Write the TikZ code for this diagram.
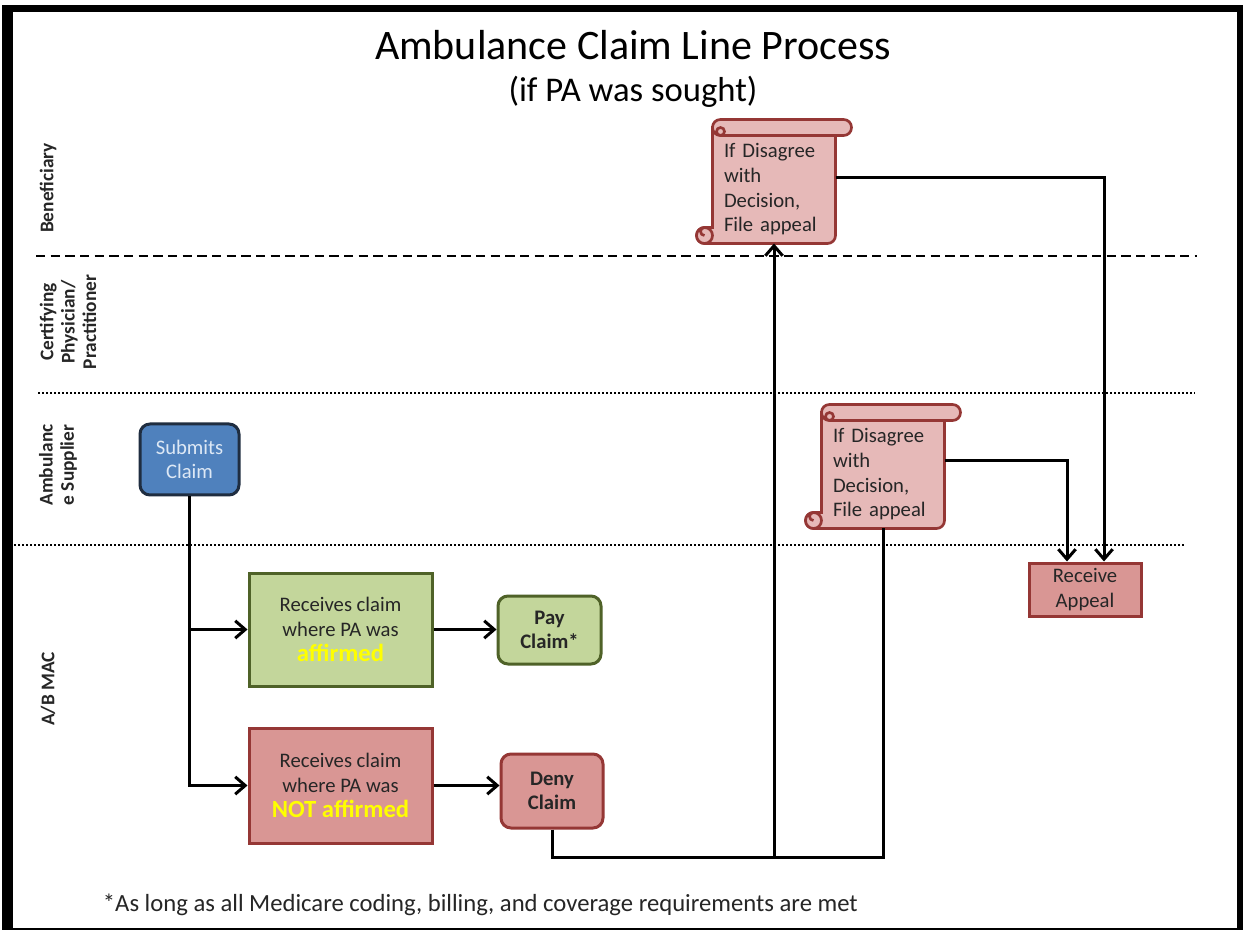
\documentclass[tikz,border=0pt]{standalone}
\usepackage{fontspec}
\setmainfont{Carlito}
\usetikzlibrary{arrows.meta,calc}

\definecolor{boxblue}{HTML}{4F81BD}
\definecolor{boxblueline}{HTML}{1F2D40}
\definecolor{boxbluetext}{HTML}{DDE8F5}
\definecolor{okfill}{HTML}{C3D69B}
\definecolor{okline}{HTML}{4F6228}
\definecolor{nofill}{HTML}{D99694}
\definecolor{noline}{HTML}{953735}
\definecolor{scrollfill}{HTML}{E6B9B8}
\definecolor{darktext}{HTML}{262626}
\definecolor{markyellow}{HTML}{FFFF00}

\tikzset{every picture/.style={line width=0.75pt}}
\tikzset{
  lanelabel/.style={rotate=90, align=center, text=darktext, font=\fontsize{14.5}{16}\selectfont\bfseries},
  procbox/.style={draw, line width=2.25pt, align=center, text=darktext, font=\fontsize{15.5}{18.5}\selectfont, inner sep=0pt},
  okbox/.style={procbox, fill=okfill, draw=okline},
  nobox/.style={procbox, fill=nofill, draw=noline},
  roundbox/.style={rounded corners=7.5pt},
  scrollbody/.style={align=left, text=darktext, font=\fontsize{15.5}{18.5}\selectfont, text width=75pt, inner xsep=8.25pt, inner ysep=0pt, minimum height=80.25pt},
  scrollline/.style={draw=noline, line width=2pt, fill=scrollfill},
  flow/.style={line width=2.25pt},
  flowarrow/.style={flow, -{Straight Barb[length=7.5pt,width=13pt]}},
  lanesep/.style={line width=1.6pt},
}

% scroll outline drawn round a body node
\newcommand{\scrollroll}[1]{%
  \path[scrollline] ($(#1.north west)+(0,-8)$) -- ($(#1.north east)+(0,-8)$) -- ($(#1.south east)+(0,-8)$)
    arc[start angle=0, end angle=90, radius=8] -- ($(#1.south west)+(-8,0)$)
    arc[start angle=90, end angle=270, radius=8] -- ($(#1.south west)+(0,-16)$) -- cycle;
  \path[scrollline] ($(#1.south west)+(-8,-8)$) circle[radius=8];
  \draw[noline, line width=2pt] ($(#1.south west)+(-8,-16)$) arc[start angle=270, end angle=90, radius=4];
  \path[scrollline, rounded corners=5.9pt] ($(#1.north west)+(0,-16)$) rectangle ($(#1.north east)+(16,0)$);
  \draw[noline, line width=2pt] ($(#1.north west)+(8,-4)$) circle[radius=4];
}

\begin{document}
\begin{tikzpicture}[x=0.75pt,y=0.75pt,yscale=-1,xscale=1]
\useasboundingbox (0,0) rectangle (1243,930);

%Shape: Frame
\fill (2,5) rectangle (1243,930);
\fill[white] (13,12) rectangle (1237,927.5);

% Text Node
\node (title) at (633,45) {\fontsize{31.5}{36}\selectfont Ambulance Claim Line Process};
% Text Node
\node (subtitle) at (633,92) {\fontsize{26}{30}\selectfont (if PA was sought)};

%Lanes
\draw[lanesep, dash pattern=on 7pt off 4pt] (36,256) -- (1197,256);
\draw[lanesep, dash pattern=on 1.5pt off 1.5pt] (38,393) -- (1195,393);
\draw[lanesep, dash pattern=on 1.5pt off 1.5pt] (14,545) -- (1185,545);

\node[lanelabel] (lben) at (48,188) {Beneficiary};
\node[lanelabel] (lcert) at (68,322) {Certifying\\Physician/\\Practitioner};
\node[lanelabel] (lamb) at (58,465) {Ambulanc\\e Supplier};
\node[lanelabel] (lmac) at (48,689) {A/B MAC};

%Shape: Boxes
\node[procbox, roundbox, fill=boxblue, draw=boxblueline, text=boxbluetext, minimum width=74.25pt, minimum height=53.25pt] (submit) at (189.5,459.5) {Submits\\Claim};
\node[okbox, minimum width=137.25pt, minimum height=84.75pt] (recA) at (340.5,629.5) {Receives claim\\where PA was\\{\fontsize{18.5}{21}\selectfont\bfseries\color{markyellow}affirmed}};
\node[okbox, roundbox, font=\fontsize{15.5}{18.5}\selectfont\bfseries, minimum width=77.25pt, minimum height=51pt] (pay) at (549.5,630) {Pay\\Claim*};
\node[nobox, minimum width=137.25pt, minimum height=86.25pt] (recN) at (340.5,785.5) {Receives claim\\where PA was\\{\fontsize{18.5}{21}\selectfont\bfseries\color{markyellow}NOT affirmed}};
\node[nobox, roundbox, font=\fontsize{15.5}{18.5}\selectfont\bfseries, minimum width=76.5pt, minimum height=55.5pt] (deny) at (552,791) {Deny\\Claim};
\node[nobox, minimum width=84pt, minimum height=39.75pt] (appeal) at (1085,589.5) {Receive\\Appeal};

%Shape: Vertical Scrolls
\node[scrollbody] (s1) at (774,189.5) {};
\scrollroll{s1}
\node[scrollbody] (s1) at (774,189.5) {If Disagree\\with\\Decision,\\File appeal};
\node[scrollbody] (s2) at (883,474.5) {};
\scrollroll{s2}
\node[scrollbody] (s2) at (883,474.5) {If Disagree\\with\\Decision,\\File appeal};

\coordinate (low) at (0,857);

%Connectors
\draw[flowarrow] (submit.south) |- (recN.west);
\draw[flowarrow] (submit.south |- recA.west) -- (recA.west);
\draw[flowarrow] (recA.east) -- (recA.east -| pay.west);
\draw[flowarrow] (recN.east) -- (recN.east -| deny.west);
\draw[flow] (deny.south) |- (s2.south |- low) -- (s2.south);
\draw[flowarrow] (s1.south |- low) -- (s1.south);
\draw[flowarrow] ($(s1.east)+(0,-12)$) -| ($(appeal.north)+(19,0)$);
\draw[flowarrow] ($(s2.east)+(0,-14)$) -| ($(appeal.north)+(-18,0)$);

% Text Node
\node[anchor=west, text=darktext] (note) at (98,905) {\fontsize{18.5}{22}\selectfont *As long as all Medicare coding, billing, and coverage requirements are met};

\end{tikzpicture}
\end{document}
